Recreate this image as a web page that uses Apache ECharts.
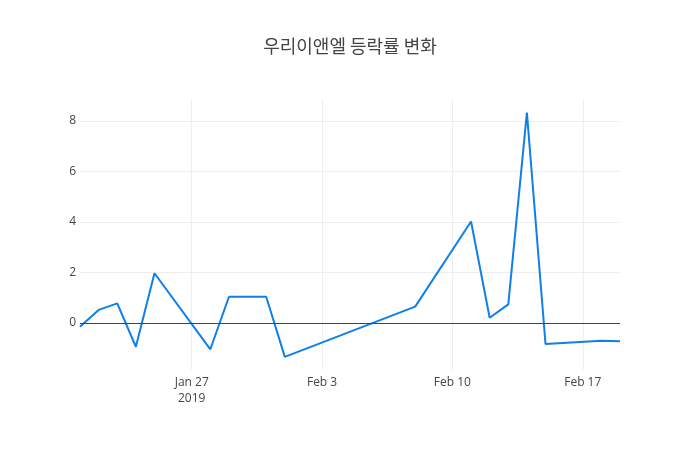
<!DOCTYPE html>
<html>
<head>
<meta charset="utf-8">
<script src="https://cdn.jsdelivr.net/npm/echarts@6/dist/echarts.min.js"></script>
<style>
  html, body { margin: 0; padding: 0; background: #fff; }
  #chart { width: 700px; height: 450px; }
</style>
</head>
<body>
<div id="chart"></div>
<script>
// 우리이앤엘 daily change (%)
var dates = [
  '2019-01-21', '2019-01-22', '2019-01-23', '2019-01-24', '2019-01-25',
  '2019-01-28', '2019-01-29', '2019-01-31', '2019-02-01', '2019-02-08',
  '2019-02-11', '2019-02-12', '2019-02-13', '2019-02-14', '2019-02-15',
  '2019-02-18', '2019-02-19'
]
var changes = [
  -0.15, 0.52, 0.78, -0.94, 1.97,
  -1.04, 1.04, 1.04, -1.34, 0.65,
  4.02, 0.21, 0.74, 8.33, -0.83,
  -0.70, -0.72
]
var xTicks = ['2019-01-27', '2019-02-03', '2019-02-10', '2019-02-17']
var xTickLabels = ['Jan 27\n2019', 'Feb 3', 'Feb 10', 'Feb 17']
var yTicks = [0, 2, 4, 6, 8]

function ts(d) {
  return new Date(d + 'T00:00:00Z').getTime()
}

var xTickValues = xTicks.map(ts)
var seriesData = dates.map(function (d, i) { return [ts(d), changes[i]] })

var chart = echarts.init(document.getElementById('chart'))
chart.setOption({
  animation: false,
  textStyle: { fontFamily: '"Open Sans", "Noto Sans CJK KR", sans-serif' },
  title: {
    text: '우리이앤엘 등락률 변화',
    left: 'center',
    top: 32,
    textStyle: {
      fontFamily: '"Noto Sans CJK KR", "Open Sans", sans-serif',
      fontSize: 18,
      fontWeight: 'normal',
      color: '#444'
    }
  },
  grid: { left: 80, right: 80, top: 100, bottom: 80 },
  xAxis: {
    type: 'value',
    scale: true,
    min: ts(dates[0]),
    max: ts(dates[dates.length - 1]),
    axisLine: { show: false, onZero: false },
    axisTick: { show: false, customValues: xTickValues },
    splitLine: { show: true, lineStyle: { color: '#eee', width: 1 } },
    axisLabel: {
      customValues: xTickValues,
      color: '#444',
      fontSize: 12,
      margin: 5,
      lineHeight: 16,
      formatter: function (v) {
        var i = xTickValues.indexOf(v)
        return i >= 0 ? xTickLabels[i] : ''
      }
    }
  },
  yAxis: {
    type: 'value',
    min: -1.86,
    max: 8.83,
    axisLine: { show: false },
    axisTick: { show: false, customValues: yTicks },
    splitLine: { show: true, lineStyle: { color: '#eee', width: 1 } },
    axisLabel: {
      customValues: yTicks,
      color: '#444',
      fontSize: 12,
      margin: 4
    }
  },
  series: [
    {
      type: 'line',
      data: seriesData,
      showSymbol: false,
      symbol: 'none',
      lineStyle: { color: '#0f7fe9', width: 2 },
      markLine: {
        silent: true,
        symbol: 'none',
        label: { show: false },
        lineStyle: { color: '#444', width: 1, type: 'solid' },
        data: [{ yAxis: 0 }]
      },
      z: 3
    }
  ]
})
</script>
</body>
</html>
